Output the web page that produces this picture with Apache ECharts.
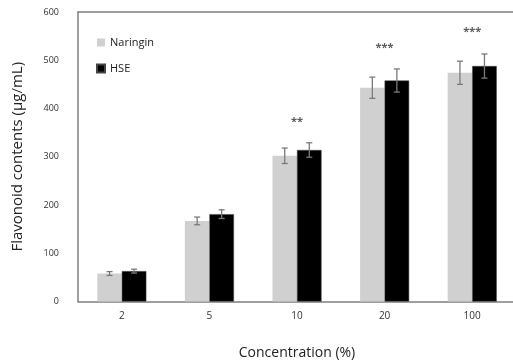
<!DOCTYPE html>
<html>
<head>
<meta charset="utf-8">
<script src="https://cdn.jsdelivr.net/npm/echarts@6/dist/echarts.min.js"></script>
<style>
  html, body { margin: 0; padding: 0; background: #fff; }
  #chart { width: 513px; height: 361px; }
</style>
</head>
<body>
<div id="chart"></div>
<script>
// concentrations (%)
const categories = ['2', '5', '10', '20', '100'];
// flavonoid contents (µg/mL)
const naringin = [58, 167, 302, 443, 474];
const naringinErr = [4, 8, 16, 22, 24];
const hse = [63, 181, 314, 458, 488];
const hseErr = [4, 9, 15, 24, 25];
// significance marks and where they sit (value units)
const sigText = ['', '', '**', '***', '***'];
const sigY = [0, 0, 372, 525, 558];

const FONT = '"Open Sans", "Liberation Sans", sans-serif';
const AXIS = { color: '#7f7f7f', width: 1.5 };

// error bars: shift = -1 left bar, +1 right bar
const errorSeries = (vals, errs, shift) => ({
  type: 'custom',
  z: 5,
  silent: true,
  data: vals.map((v, i) => [i, v - errs[i], v + errs[i]]),
  renderItem: (params, api) => {
    const band = api.size([1, 0])[0];
    const off = shift * band * 0.14;
    const lo = api.coord([api.value(0), api.value(1)]);
    const hi = api.coord([api.value(0), api.value(2)]);
    const x = lo[0] + off;
    const cap = 3;
    const style = { stroke: '#7a7a7a', lineWidth: 1.3 };
    return {
      type: 'group',
      children: [
        { type: 'line', shape: { x1: x, y1: lo[1], x2: x, y2: hi[1] }, style },
        { type: 'line', shape: { x1: x - cap, y1: lo[1], x2: x + cap, y2: lo[1] }, style },
        { type: 'line', shape: { x1: x - cap, y1: hi[1], x2: x + cap, y2: hi[1] }, style }
      ]
    };
  }
});

const chart = echarts.init(document.getElementById('chart'));
chart.setOption({
  animation: false,
  textStyle: { fontFamily: FONT },
  grid: {
    left: 78, top: 12, bottom: 59.5, right: -3,
    containLabel: false,
    outerBoundsMode: 'none'
  },
  legend: {
    orient: 'vertical',
    left: 91, top: 32,
    itemWidth: 8, itemHeight: 8,
    itemGap: 15,
    icon: 'rect',
    textStyle: { fontSize: 11, color: '#222', fontFamily: FONT },
    data: ['Naringin', 'HSE']
  },
  xAxis: [
    {
      type: 'category',
      data: categories,
      name: 'Concentration (%)',
      nameLocation: 'middle',
      nameGap: 45,
      nameTextStyle: { fontSize: 14, color: '#222' },
      axisLine: { lineStyle: AXIS },
      axisTick: { show: false },
      axisLabel: { fontSize: 10, color: '#333', margin: 10 }
    },
    {
      // frame line along the top of the plot
      type: 'category',
      data: categories,
      position: 'top',
      axisLine: { show: true, onZero: false, lineStyle: AXIS },
      axisTick: { show: false },
      axisLabel: { show: false }
    }
  ],
  yAxis: {
    type: 'value',
    min: 0, max: 600, interval: 100,
    name: 'Flavonoid contents (µg/mL)',
    nameLocation: 'middle',
    nameGap: 53,
    nameTextStyle: { fontSize: 15, color: '#222' },
    axisLine: { show: true, lineStyle: AXIS },
    axisTick: { show: false },
    splitLine: { show: false },
    axisLabel: { fontSize: 9, color: '#333', margin: 19 }
  },
  series: [
    {
      name: 'Naringin',
      type: 'bar',
      data: naringin,
      barWidth: '28%',
      barGap: '0%',
      itemStyle: { color: '#d0d0d0' }
    },
    {
      name: 'HSE',
      type: 'bar',
      data: hse,
      barWidth: '28%',
      itemStyle: { color: '#000', borderColor: '#444', borderWidth: 0.5 }
    },
    errorSeries(naringin, naringinErr, -1),
    errorSeries(hse, hseErr, 1),
    {
      type: 'scatter',
      silent: true,
      symbolSize: 0,
      data: sigText.map((t, i) => (t ? [i, sigY[i]] : null)).filter(d => d),
      label: {
        show: true,
        position: 'inside',
        formatter: p => sigText[p.data[0]],
        fontSize: 11,
        fontWeight: 'bold',
        color: '#333'
      }
    }
  ]
});
</script>
</body>
</html>
